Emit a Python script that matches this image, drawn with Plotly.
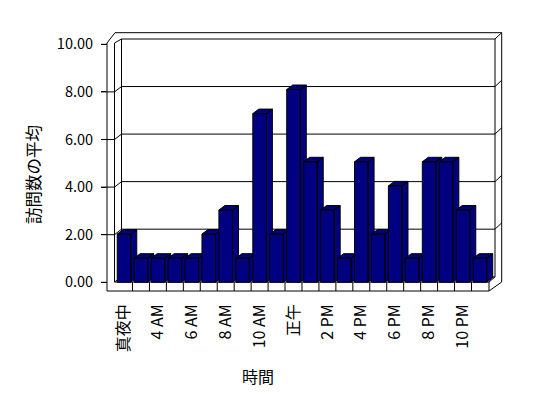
import plotly.graph_objects as go

# ---- data ----
categories = ["真夜中", "1 AM", "4 AM", "5 AM", "6 AM", "7 AM", "8 AM", "9 AM",
              "10 AM", "11 AM", "正午", "1 PM", "2 PM", "3 PM", "4 PM", "5 PM",
              "6 PM", "7 PM", "8 PM", "9 PM", "10 PM", "11 PM"]
values = [2, 1, 1, 1, 1, 2, 3, 1, 7, 2, 8, 5, 3, 1, 5, 2, 4, 1, 5, 5, 3, 1]
y_ticks = [0, 2, 4, 6, 8, 10]
y_ticktext = ["%.2f" % v for v in y_ticks]
x_title = "時間"
y_title = "訪問数の平均"

# ---- geometry helpers (pixel <-> data) ----
W, H = 548, 398
L, R, T, B = 100, 505, 25, 300
X0PX, XS = 124.0, 16.95      # category 0 centre, px per category
Y0PX, YS = 282.3, 24.1       # value 0 (bar front), px per unit
TS = 23.8                    # tick scale on the wall front edge
BS = 23.77                   # back wall scale
BACK0 = 276.7                # back wall zero

def dx(px):
    return (px - X0PX) / XS

def dy(py):
    return (Y0PX - py) / YS

def path(pts, close=False):
    s = "M " + " L ".join("%.4f,%.4f" % (dx(a), dy(b)) for a, b in pts)
    return s + (" Z" if close else "")

FONT = "Noto Sans CJK JP, Noto Sans, sans-serif"
NAVY = "#000080"

shapes = []
def add(pts, close=False, fill=None):
    shapes.append(dict(type="path", path=path(pts, close), xref="x", yref="y",
                       layer="below", line=dict(color="black", width=1),
                       fillcolor=fill if fill else "rgba(0,0,0,0)"))

# back wall face
add([(121.5, 39), (495, 39), (495, 277), (121.5, 277)], close=True, fill="white")
# outer slab outline (top and right)
add([(107, 43), (115, 32.7), (501.7, 32.7), (501.7, 282)])
add([(495, 39), (501.7, 32.7)])
# left wall
add([(107, 43), (107, 291)])
add([(114.5, 43), (114.5, 282)])
add([(114.5, 43), (121.5, 39)])
add([(114.5, 282), (121.5, 277)])
# floor front strip
add([(107, 291), (489, 291), (489, 282), (114.5, 282)])
for i in range(len(categories) - 1):
    xb = X0PX + XS * (i + 0.5)
    add([(xb, 282), (xb, 291)])
add([(489, 282), (495, 277)])
add([(489, 291), (501.7, 282)])

# gridlines / ticks
for v in y_ticks:
    yf = Y0PX - TS * v
    yb = BACK0 - BS * v
    if v in (0, 10):
        add([(101, yf), (107, yf)])
    else:
        add([(101, yf), (114.5, yf), (121.5, yb), (495, yb), (501.7, yb - 6.3)])

fig = go.Figure()

# 3D bars, drawn left to right so later bars cover earlier sides
hw = 0.4
ddx = 6.0 / XS
ddy = 4.5 / YS
for i, v in enumerate(values):
    xl, xr = i - hw, i + hw
    xs = [xr, xr + ddx, xr + ddx, xr, xr, None,
          xl, xr, xr + ddx, xl + ddx, xl, None,
          xl, xr, xr, xl, xl]
    ys = [0, ddy, v + ddy, v, 0, None,
          v, v, v + ddy, v + ddy, v, None,
          0, 0, v, v, 0]
    fig.add_trace(go.Scatter(x=xs, y=ys, mode="lines", fill="toself",
                             fillcolor=NAVY, line=dict(color="black", width=1),
                             hoverinfo="skip", showlegend=False,
                             name=categories[i]))

# empty trace for the tick axis
fig.add_trace(go.Scatter(x=[None], y=[None], yaxis="y2", showlegend=False,
                         hoverinfo="skip"))

fig.update_layout(
    width=W, height=H,
    margin=dict(l=L, r=W - R, t=T, b=H - B, autoexpand=False),
    paper_bgcolor="white", plot_bgcolor="white",
    shapes=shapes,
    xaxis=dict(range=[dx(L), dx(R)], showgrid=False, zeroline=False,
               showline=False, ticks="", tickangle=-90,
               tickvals=list(range(0, len(categories), 2)),
               ticktext=categories[::2],
               tickfont=dict(family=FONT, size=16, color="black"),
               automargin=False, fixedrange=True),
    yaxis=dict(range=[dy(B), dy(T)], visible=False, fixedrange=True),
    yaxis2=dict(range=[(Y0PX - B) / TS, (Y0PX - T) / TS], overlaying="y",
                anchor="free", position=6 / (R - L), side="left",
                showgrid=False, zeroline=False, showline=False,
                tickvals=y_ticks, ticktext=y_ticktext, ticks="outside",
                ticklen=5, tickcolor="black", ticklabelstandoff=5,
                tickfont=dict(family=FONT, size=14.5, color="black"),
                automargin=False, fixedrange=True),
    annotations=[
        dict(text=x_title, xref="paper", yref="paper",
             x=(258 - L) / (R - L), y=1 - (376 - T) / (B - T),
             xanchor="center", yanchor="middle", showarrow=False,
             font=dict(family=FONT, size=16, color="black")),
        dict(text=y_title, xref="paper", yref="paper",
             x=(33 - L) / (R - L), y=1 - (175 - T) / (B - T),
             xanchor="center", yanchor="middle", showarrow=False, textangle=-90,
             font=dict(family=FONT, size=16.5, color="black")),
    ],
)

fig.write_html("out.html")
